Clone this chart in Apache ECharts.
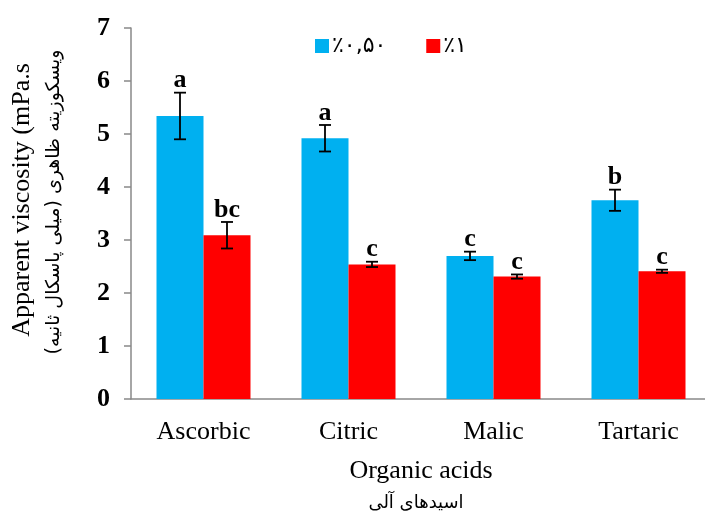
<!DOCTYPE html>
<html><head><meta charset="utf-8">
<script src="https://cdn.jsdelivr.net/npm/echarts@6/dist/echarts.min.js"></script>
<style>html,body{margin:0;padding:0;background:#fff;overflow:hidden}#c{width:720px;height:521px}</style>
</head><body><div id="c"></div>
<script>
var categories = ['Ascorbic', 'Citric', 'Malic', 'Tartaric'];
var seriesNames = ['٪۰,۵۰', '٪۱'];
var values050 = [5.34, 4.92, 2.70, 3.75];
var err050 = [0.44, 0.25, 0.08, 0.20];
var letters050 = ['a', 'a', 'c', 'b'];
var values1 = [3.09, 2.54, 2.31, 2.41];
var err1 = [0.25, 0.05, 0.04, 0.03];
var letters1 = ['bc', 'c', 'c', 'c'];
var yTicks = [0, 1, 2, 3, 4, 5, 6, 7];

var BAR_W = 47;
var serif = '"Liberation Serif","DejaVu Serif",serif';

function errData(vals, errs, letters) {
  return vals.map(function (v, i) { return [i, v, errs[i], letters[i]]; });
}
function makeErr(offset) {
  return function (params, api) {
    var x = api.value(0), v = api.value(1), e = api.value(2);
    var top = api.coord([x, v + e]);
    var bot = api.coord([x, v - e]);
    var cx = top[0] + offset;
    var cap = 6;
    var st = { stroke: '#000', lineWidth: 1.8 };
    return {
      type: 'group',
      children: [
        { type: 'line', shape: { x1: cx, y1: top[1], x2: cx, y2: bot[1] }, style: st },
        { type: 'line', shape: { x1: cx - cap, y1: top[1], x2: cx + cap, y2: top[1] }, style: st },
        { type: 'line', shape: { x1: cx - cap, y1: bot[1], x2: cx + cap, y2: bot[1] }, style: st },
        { type: 'text', x: cx, y: top[1] + 1, style: { text: api.value(3), fill: '#000', font: 'bold 26px ' + serif, align: 'center', verticalAlign: 'bottom' } }
      ]
    };
  };
}

var chart = echarts.init(document.getElementById('c'), null, { renderer: 'canvas' });
chart.setOption({
  animation: false,
  backgroundColor: '#fff',
  grid: { left: 131, top: 28, width: 580, height: 371, containLabel: false },
  legend: {
    data: seriesNames,
    top: 30, left: 310,
    itemWidth: 14, itemHeight: 14, itemGap: 40,
    icon: 'rect',
    textStyle: { fontSize: 22, fontFamily: '"DejaVu Sans",sans-serif', color: '#000', padding: [0, 0, 0, -2] }
  },
  xAxis: {
    type: 'category', data: categories,
    axisLine: { lineStyle: { color: '#898989', width: 1.5 } },
    axisTick: { show: false },
    axisLabel: { fontSize: 26, fontFamily: serif, color: '#000', margin: 20 }
  },
  yAxis: {
    type: 'value', min: yTicks[0], max: yTicks[yTicks.length - 1], interval: 1,
    splitLine: { show: false },
    axisLine: { show: true, lineStyle: { color: '#898989', width: 1.5 } },
    axisTick: { show: true, length: 7, lineStyle: { color: '#898989', width: 1.5 } },
    axisLabel: { fontSize: 26, fontWeight: 'bold', fontFamily: serif, color: '#000', margin: 21 }
  },
  graphic: [
    { type: 'text', x: 22, y: 200, rotation: Math.PI / 2, style: { text: 'Apparent viscosity (mPa.s', font: '26px ' + serif, fill: '#000', align: 'center', verticalAlign: 'middle' } },
    { type: 'text', x: 54, y: 202, rotation: Math.PI / 2, style: { text: 'ویسکوزیته ظاهری (میلی پاسکال ثانیه)', font: '19px "DejaVu Sans",sans-serif', fill: '#000', align: 'center', verticalAlign: 'middle' } },
    { type: 'text', x: 421, y: 471, style: { text: 'Organic acids', font: '26px ' + serif, fill: '#000', align: 'center', verticalAlign: 'middle' } },
    { type: 'text', x: 416, y: 503, style: { text: 'اسیدهای آلی', font: '18px "DejaVu Sans",sans-serif', fill: '#000', align: 'center', verticalAlign: 'middle' } }
  ],
  series: [
    { name: seriesNames[0], type: 'bar', data: values050, barWidth: BAR_W, barGap: '0%', itemStyle: { color: '#00B0F0' } },
    { name: seriesNames[1], type: 'bar', data: values1, barWidth: BAR_W, barGap: '0%', itemStyle: { color: '#FF0000' } },
    { type: 'custom', renderItem: makeErr(-BAR_W / 2), data: errData(values050, err050, letters050), z: 5 },
    { type: 'custom', renderItem: makeErr(BAR_W / 2), data: errData(values1, err1, letters1), z: 5 }
  ]
});
</script></body></html>
